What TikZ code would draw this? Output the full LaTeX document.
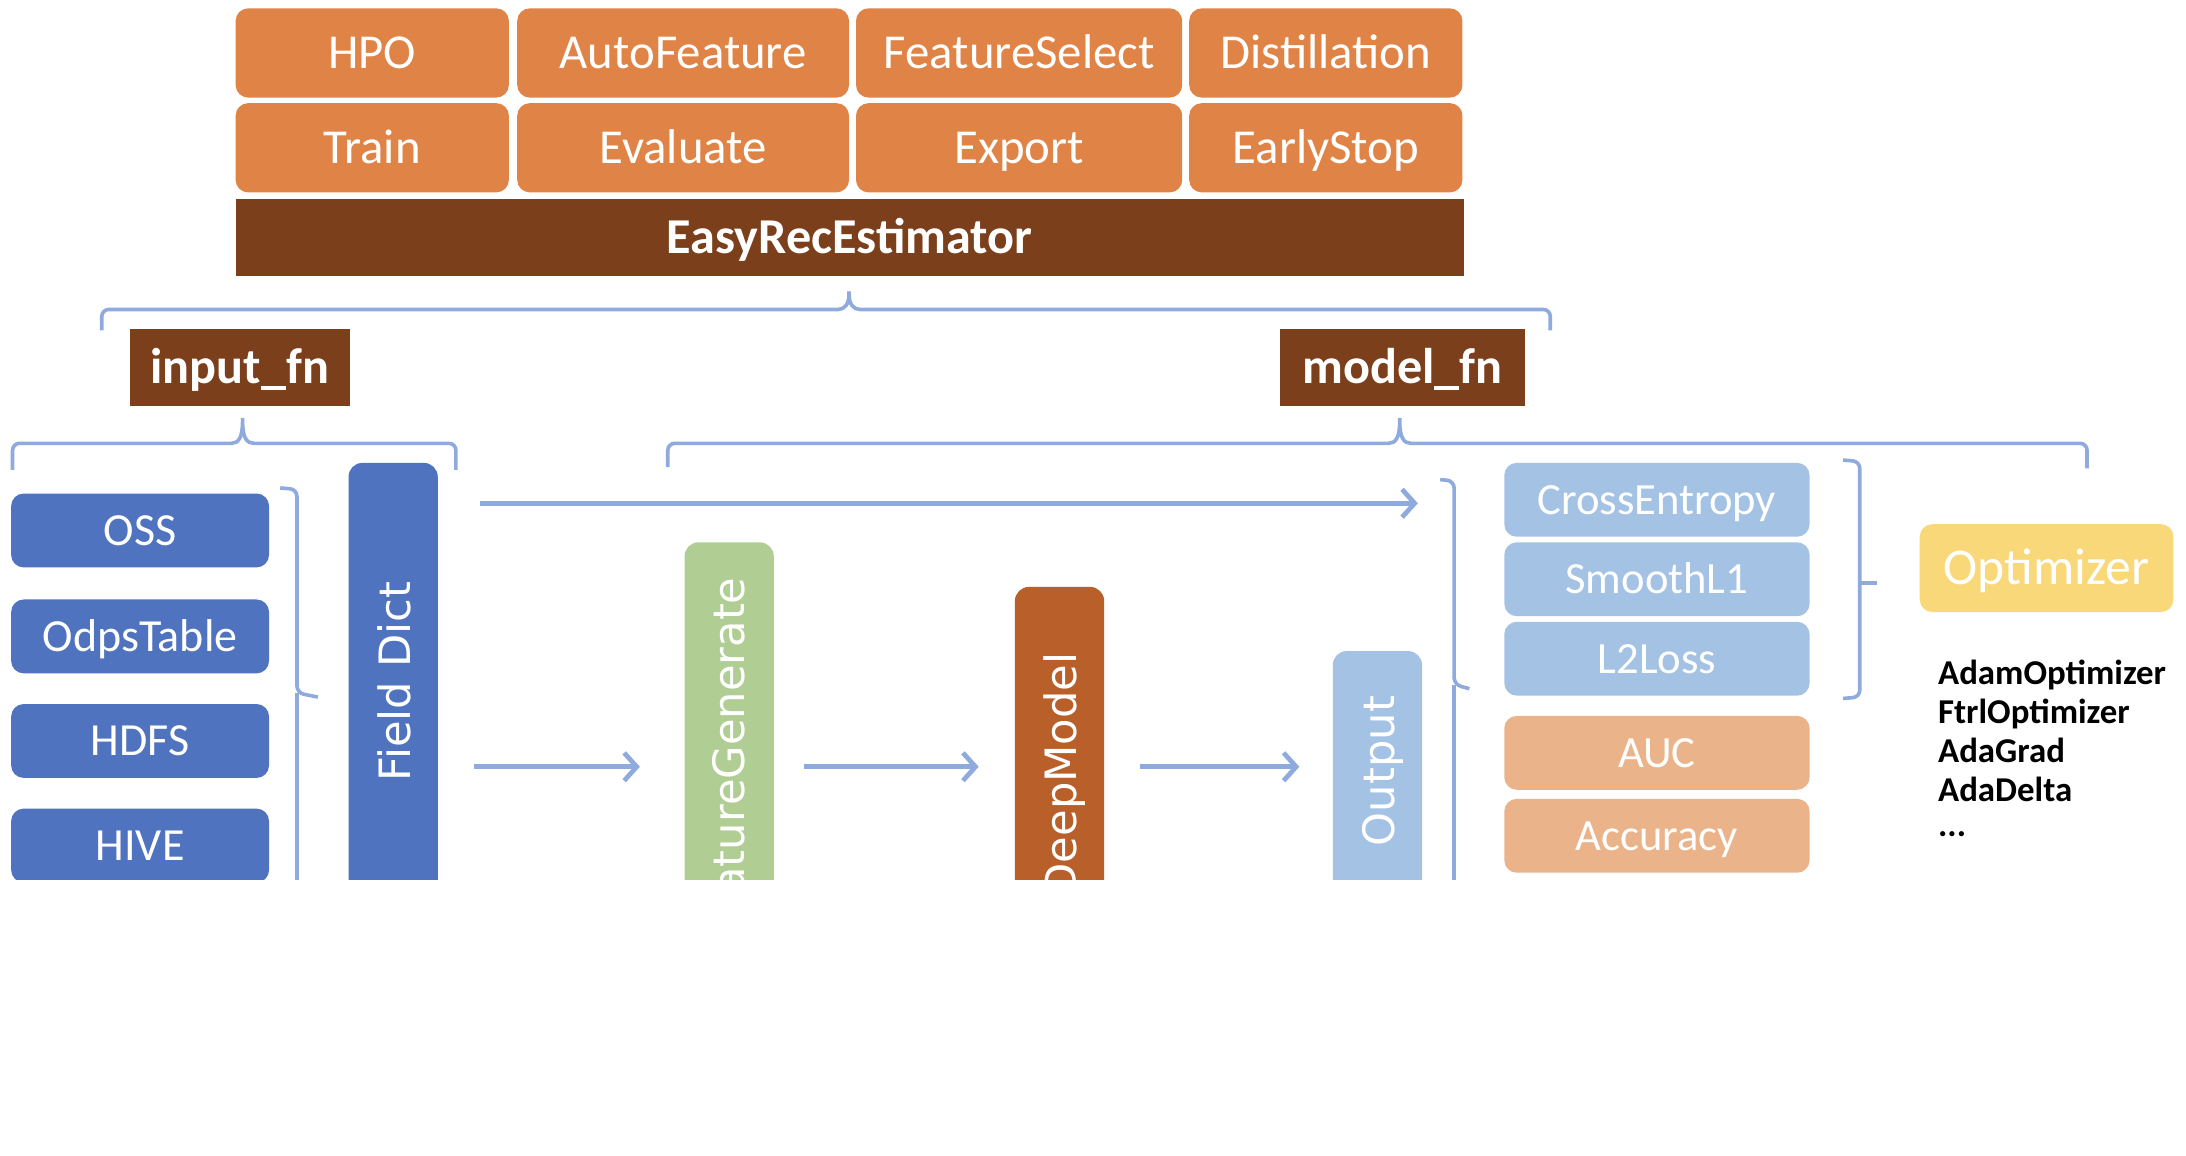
\documentclass[tikz,border=0pt]{standalone}
\usepackage{fontspec}
\setmainfont{Carlito}
\newfontfamily\rotfont{DejaVu Sans}
\usetikzlibrary{arrows.meta}
\definecolor{cOrange}{RGB}{224,131,70}
\definecolor{cBrown}{RGB}{123,63,27}
\definecolor{cBlue}{RGB}{79,115,190}
\definecolor{cGreen}{RGB}{176,206,147}
\definecolor{cDeep}{RGB}{185,95,42}
\definecolor{cLight}{RGB}{164,194,228}
\definecolor{cPeach}{RGB}{234,179,138}
\definecolor{cYellow}{RGB}{248,216,120}
\definecolor{cLine}{RGB}{143,170,220}
\tikzset{
  tile/.style={rounded corners=9pt, inner sep=0pt, text=white, text depth=0pt},
  otile/.style={tile, fill=cOrange, minimum height=64pt, text height=22.5pt, font=\fontsize{35}{40}\selectfont},
  btile/.style={tile, fill=cBlue, minimum width=185pt, minimum height=53pt, text height=21.3pt, font=\fontsize{33}{38}\selectfont},
  ltile/.style={tile, fill=cLight, minimum width=219pt, minimum height=53pt, text height=20.6pt, font=\fontsize{32}{38}\selectfont},
  ptile/.style={tile, fill=cPeach, minimum width=219pt, minimum height=53pt, text height=20.6pt, font=\fontsize{32}{38}\selectfont},
  darkbox/.style={fill=cBrown, inner sep=0pt, text=white, text height=23.2pt, text depth=0pt, font=\bfseries\fontsize{36}{40}\selectfont},
  column/.style={rounded corners=10pt, minimum width=64pt, inner sep=0pt},
  rotlab/.style={rotate=90, inner sep=0pt, text=white, text height=22.6pt, text depth=0pt, font=\rotfont\fontsize{31}{36}\selectfont},
  brace/.style={draw=cLine, line width=2.6pt, rounded corners=5pt},
  flow/.style={draw=cLine, line width=3.4pt, -{Straight Barb[length=9pt,width=20pt]}},
  listtxt/.style={inner sep=0pt, anchor=base west, font=\bfseries\fontsize{25}{28}\selectfont}
}
\begin{document}
\begin{tikzpicture}[x=1pt,y=-1pt]
\fill[white] (0,0) rectangle (1568,829);
\useasboundingbox (0,0) rectangle (1568,829);
\begin{scope}
\clip (0,0) rectangle (1568,631);

% top tiles
\node[otile, minimum width=196pt] (hpo) at (267,38) {HPO};
\node[otile, minimum width=238pt] (autofeat) at (490,38) {AutoFeature};
\node[otile, minimum width=234pt] (fsel) at (731,38) {FeatureSelect};
\node[otile, minimum width=196pt] (distill) at (951,38) {Distillation};
\node[otile, minimum width=196pt] (train) at (267,106) {Train};
\node[otile, minimum width=238pt] (evaluate) at (490,106) {Evaluate};
\node[otile, minimum width=234pt] (export) at (731,106) {Export};
\node[otile, minimum width=196pt] (earlystop) at (951,106) {EarlyStop};
\node[darkbox, minimum width=881pt, minimum height=55pt] (est) at (609.5,170.5) {EasyRecEstimator};

% big brace
\draw[brace] (73,237) -- (73,222) -- (596,222) .. controls (606,222) and (609,218) .. (609,206)
  .. controls (609,218) and (612,222) .. (622,222) -- (1112,222) -- (1112,237);

\node[darkbox, minimum width=158pt, minimum height=55pt] (inputfn) at (172,263.5) {input\_fn};
\node[darkbox, minimum width=176pt, minimum height=55pt] (modelfn) at (1006,263.5) {model\_fn};

% input_fn brace
\draw[brace] (9,337) -- (9,318) -- (161,318) .. controls (171,318) and (174,314) .. (174,297)
  .. controls (174,314) and (177,318) .. (187,318) -- (327,318) -- (327,337);
% model_fn brace
\draw[brace] (479,335) -- (479,318) -- (991,318) .. controls (1001,318) and (1004,314) .. (1004,297)
  .. controls (1004,314) and (1007,318) .. (1017,318) -- (1497,318) -- (1497,336);

% data sources
\node[btile] (oss) at (100.5,380.5) {OSS};
\node[btile] (odps) at (100.5,456.5) {OdpsTable};
\node[btile] (hdfs) at (100.5,531.5) {HDFS};
\node[btile] (hive) at (100.5,606.5) {HIVE};
\draw[brace] (201,350) -- (213,351) -- (213,497) -- (228,500);
\draw[brace] (213,497) -- (213,700);

% columns
\node[column, fill=cBlue, minimum height=568pt] (fieldbox) at (282,616) {};
\node[rotlab] (fieldlab) at (283,489) {Field Dict};
\node[column, fill=cGreen, minimum height=511pt] (fgbox) at (523,644.5) {};
\node[rotlab, anchor=east] (fglab) at (523,414) {FeatureGenerate};
\node[column, fill=cDeep, minimum height=479pt] (dmbox) at (760,660.5) {};
\node[rotlab, anchor=east] (dmlab) at (761,468) {DeepModel};
\node[column, fill=cLight, minimum height=433pt] (outbox) at (988,683.5) {};
\node[rotlab] (outlab) at (989,553) {Output};

% arrows
\coordinate (a1s) at (344,361); \coordinate (a1e) at (1017,361);
\coordinate (a2s) at (340,550); \coordinate (a2e) at (459,550);
\coordinate (a3s) at (577,550); \coordinate (a3e) at (702,550);
\coordinate (a4s) at (818,550); \coordinate (a4e) at (932,550);
\draw[flow] (a1s) -- (a1e);
\draw[flow] (a2s) -- (a2e);
\draw[flow] (a3s) -- (a3e);
\draw[flow] (a4s) -- (a4e);

% brace before losses
\draw[brace] (1033,344) -- (1043,345) -- (1043,491) -- (1054,494);
\draw[brace] (1043,491) -- (1043,700);

% losses and metrics
\node[ltile] (ce) at (1188.5,358.5) {CrossEntropy};
\node[ltile] (sl1) at (1188.5,415.5) {SmoothL1};
\node[ltile] (l2) at (1188.5,472.5) {L2Loss};
\node[ptile] (auc) at (1188.5,540) {AUC};
\node[ptile] (acc) at (1188.5,599.5) {Accuracy};

% brace after losses
\draw[brace] (1322,330) -- (1334,331) -- (1334,500) -- (1322,501);
\draw[brace] (1334,418) -- (1346,418);

\node[tile, fill=cYellow, minimum width=182pt, minimum height=63pt, text height=23.8pt, font=\fontsize{37}{42}\selectfont] (opt) at (1468,407.5) {Optimizer};

\node[listtxt] (l1) at (1390,491) {AdamOptimizer};
\node[listtxt] (l2t) at (1390,519) {FtrlOptimizer};
\node[listtxt] (l3) at (1390,547) {AdaGrad};
\node[listtxt] (l4) at (1390,575) {AdaDelta};
\node[listtxt] (l5) at (1390,600) {...};
\end{scope}
\end{tikzpicture}
\end{document}
